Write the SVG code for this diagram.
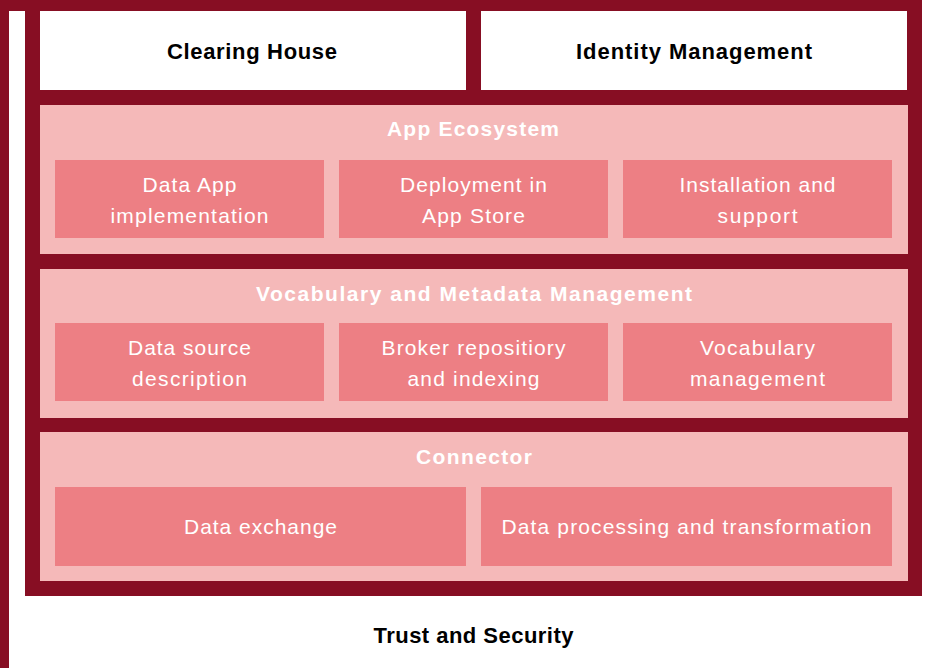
<svg xmlns="http://www.w3.org/2000/svg" width="926" height="668" viewBox="0 0 926 668">
<style>
.m{fill:#870e23}
.w{fill:#ffffff}
.p{fill:#f5b9b9}
.d{fill:#ed7f84}
text{font-family:"Liberation Sans",Arial,sans-serif;text-anchor:middle}
.hb{font-size:22px;font-weight:bold;fill:#000}
.tb{font-size:21px;font-weight:bold;fill:#fff}
.tr{font-size:21px;fill:#fff}
</style>
<rect width="926" height="668" fill="#fff"/>
<g id="trust-security">
<rect class="m" x="0" y="0" width="9" height="668"/>
<rect class="m" x="0" y="0" width="922" height="11"/>
<rect class="m" x="25" y="0" width="897" height="596"/>
<text class="hb" x="473.5" y="643" textLength="200" lengthAdjust="spacing">Trust and Security</text>
</g>
<g id="clearing-house">
<rect class="w" x="40" y="11" width="426" height="79"/>
<text class="hb" x="252" y="59" textLength="170" lengthAdjust="spacing">Clearing House</text>
</g>
<g id="identity-management">
<rect class="w" x="481" y="11" width="426" height="79"/>
<text class="hb" x="694" y="59" textLength="236" lengthAdjust="spacing">Identity Management</text>
</g>
<g id="app-ecosystem">
<rect class="p" x="40" y="105" width="868" height="149"/>
<text class="tb" x="473" y="136" textLength="172" lengthAdjust="spacing">App Ecosystem</text>
</g>
<g id="data-app-implementation">
<rect class="d" x="55" y="160" width="269" height="78"/>
<text class="tr" x="189.5" y="192" textLength="94" lengthAdjust="spacing">Data App</text>
<text class="tr" x="189.5" y="223" textLength="158" lengthAdjust="spacing">implementation</text>
</g>
<g id="deployment-app-store">
<rect class="d" x="339" y="160" width="269" height="78"/>
<text class="tr" x="473.5" y="192" textLength="147" lengthAdjust="spacing">Deployment in</text>
<text class="tr" x="473.5" y="223" textLength="103" lengthAdjust="spacing">App Store</text>
</g>
<g id="installation-support">
<rect class="d" x="623" y="160" width="269" height="78"/>
<text class="tr" x="757.5" y="192" textLength="156" lengthAdjust="spacing">Installation and</text>
<text class="tr" x="757.5" y="223" textLength="80" lengthAdjust="spacing">support</text>
</g>
<g id="vocabulary-metadata">
<rect class="p" x="40" y="269" width="868" height="149"/>
<text class="tb" x="474" y="301" textLength="436" lengthAdjust="spacing">Vocabulary and Metadata Management</text>
</g>
<g id="data-source-description">
<rect class="d" x="55" y="323" width="269" height="78"/>
<text class="tr" x="189.5" y="355" textLength="123" lengthAdjust="spacing">Data source</text>
<text class="tr" x="189.5" y="386" textLength="115" lengthAdjust="spacing">description</text>
</g>
<g id="broker-repository">
<rect class="d" x="339" y="323" width="269" height="78"/>
<text class="tr" x="473.5" y="355" textLength="184" lengthAdjust="spacing">Broker repositiory</text>
<text class="tr" x="473.5" y="386" textLength="132" lengthAdjust="spacing">and indexing</text>
</g>
<g id="vocabulary-management">
<rect class="d" x="623" y="323" width="269" height="78"/>
<text class="tr" x="757.5" y="355" textLength="115" lengthAdjust="spacing">Vocabulary</text>
<text class="tr" x="757.5" y="386" textLength="135" lengthAdjust="spacing">management</text>
</g>
<g id="connector">
<rect class="p" x="40" y="432" width="868" height="149"/>
<text class="tb" x="474" y="464" textLength="116" lengthAdjust="spacing">Connector</text>
</g>
<g id="data-exchange">
<rect class="d" x="55" y="487" width="411" height="79"/>
<text class="tr" x="260.5" y="534" textLength="153" lengthAdjust="spacing">Data exchange</text>
</g>
<g id="data-processing">
<rect class="d" x="481" y="487" width="411" height="79"/>
<text class="tr" x="686.5" y="534" textLength="370" lengthAdjust="spacing">Data processing and transformation</text>
</g>
<g id="connectors"></g>
</svg>
